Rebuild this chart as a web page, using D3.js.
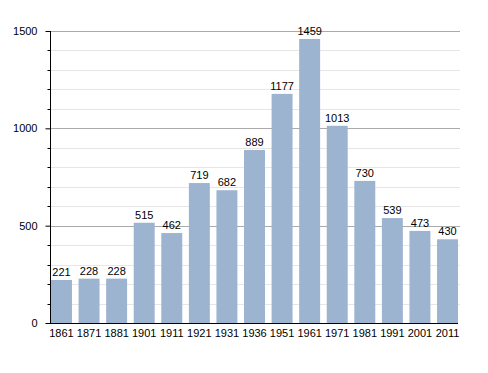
<!DOCTYPE html>
<html>
<head>
<meta charset="utf-8">
<script src="https://cdn.jsdelivr.net/npm/d3@7"></script>
<style>
  body { margin: 0; background: #fff; }
  text { font-family: "Liberation Sans", Arial, sans-serif; }
</style>
</head>
<body>
<div id="chart"></div>
<script>
// 데이터
const years = ["1861", "1871", "1881", "1901", "1911", "1921", "1931", "1936", "1951", "1961", "1971", "1981", "1991", "2001", "2011"];
const population = [221, 228, 228, 515, 462, 719, 682, 889, 1177, 1459, 1013, 730, 539, 473, 430];
const majorTicks = [0, 500, 1000, 1500];
const minorTicks = d3.range(0, 1501, 100);

const W = 488, H = 373;
const plotLeft = 50, plotRight = 458, plotTop = 31, plotBottom = 323;

const svg = d3.select("#chart").append("svg")
  .attr("width", W).attr("height", H);

const x = d3.scaleBand()
  .domain(years)
  .range([plotLeft + 1, plotRight])
  .paddingInner(0.24)
  .paddingOuter(0);

const y = d3.scaleLinear().domain([0, 1500]).range([plotBottom, plotTop]);

// 보조 격자
svg.append("g")
  .selectAll("line")
  .data(minorTicks.filter(d => d % 500 !== 0))
  .enter().append("line")
  .attr("x1", plotLeft).attr("x2", plotRight + 2)
  .attr("y1", d => Math.round(y(d)) + 0.5).attr("y2", d => Math.round(y(d)) + 0.5)
  .attr("stroke", "#e6e6e6");

// 주 격자
svg.append("g")
  .selectAll("line")
  .data(majorTicks.filter(d => d > 0))
  .enter().append("line")
  .attr("x1", plotLeft).attr("x2", plotRight + 2)
  .attr("y1", d => Math.round(y(d)) + 0.5).attr("y2", d => Math.round(y(d)) + 0.5)
  .attr("stroke", "#aaaaaa");

// 막대
svg.append("g")
  .selectAll("rect")
  .data(population)
  .enter().append("rect")
  .attr("x", (d, i) => x(years[i]))
  .attr("y", d => y(d))
  .attr("width", x.bandwidth())
  .attr("height", d => plotBottom - y(d))
  .attr("fill", "#9db4d0");

// 값 라벨
svg.append("g")
  .selectAll("text")
  .data(population)
  .enter().append("text")
  .attr("x", (d, i) => x(years[i]) + x.bandwidth() / 2)
  .attr("y", d => y(d) - 4)
  .attr("text-anchor", "middle")
  .style("font-size", "11px")
  .style("fill", "#000")
  .text(d => d);

// Y축
const yAxis = d3.axisLeft(y).tickValues(majorTicks).tickFormat(d3.format("d")).tickSize(5).tickPadding(8);
const yg = svg.append("g")
  .attr("transform", `translate(${plotLeft + 0.5},0)`)
  .call(yAxis);
yg.select(".domain").remove();
yg.selectAll("text").style("font-size", "11px").style("font-family", "Liberation Sans, Arial, sans-serif");

// 보조 눈금
yg.selectAll(".minor")
  .data(minorTicks.filter(d => d % 500 !== 0))
  .enter().append("line")
  .attr("class", "minor")
  .attr("x1", -3).attr("x2", 0)
  .attr("y1", d => Math.round(y(d)) + 0.5).attr("y2", d => Math.round(y(d)) + 0.5)
  .attr("stroke", "#000");

yg.append("line")
  .attr("x1", 0).attr("x2", 0)
  .attr("y1", plotTop).attr("y2", plotBottom + 1)
  .attr("stroke", "#000");

// X축
const xAxis = d3.axisBottom(x).tickSize(0).tickPadding(6);
const xg = svg.append("g")
  .attr("transform", `translate(0,${plotBottom + 0.5})`)
  .call(xAxis);
xg.select(".domain").remove();
xg.selectAll("text").style("font-size", "11px").style("font-family", "Liberation Sans, Arial, sans-serif");
xg.append("line")
  .attr("x1", plotLeft).attr("x2", plotRight)
  .attr("stroke", "#000");
</script>
</body>
</html>
